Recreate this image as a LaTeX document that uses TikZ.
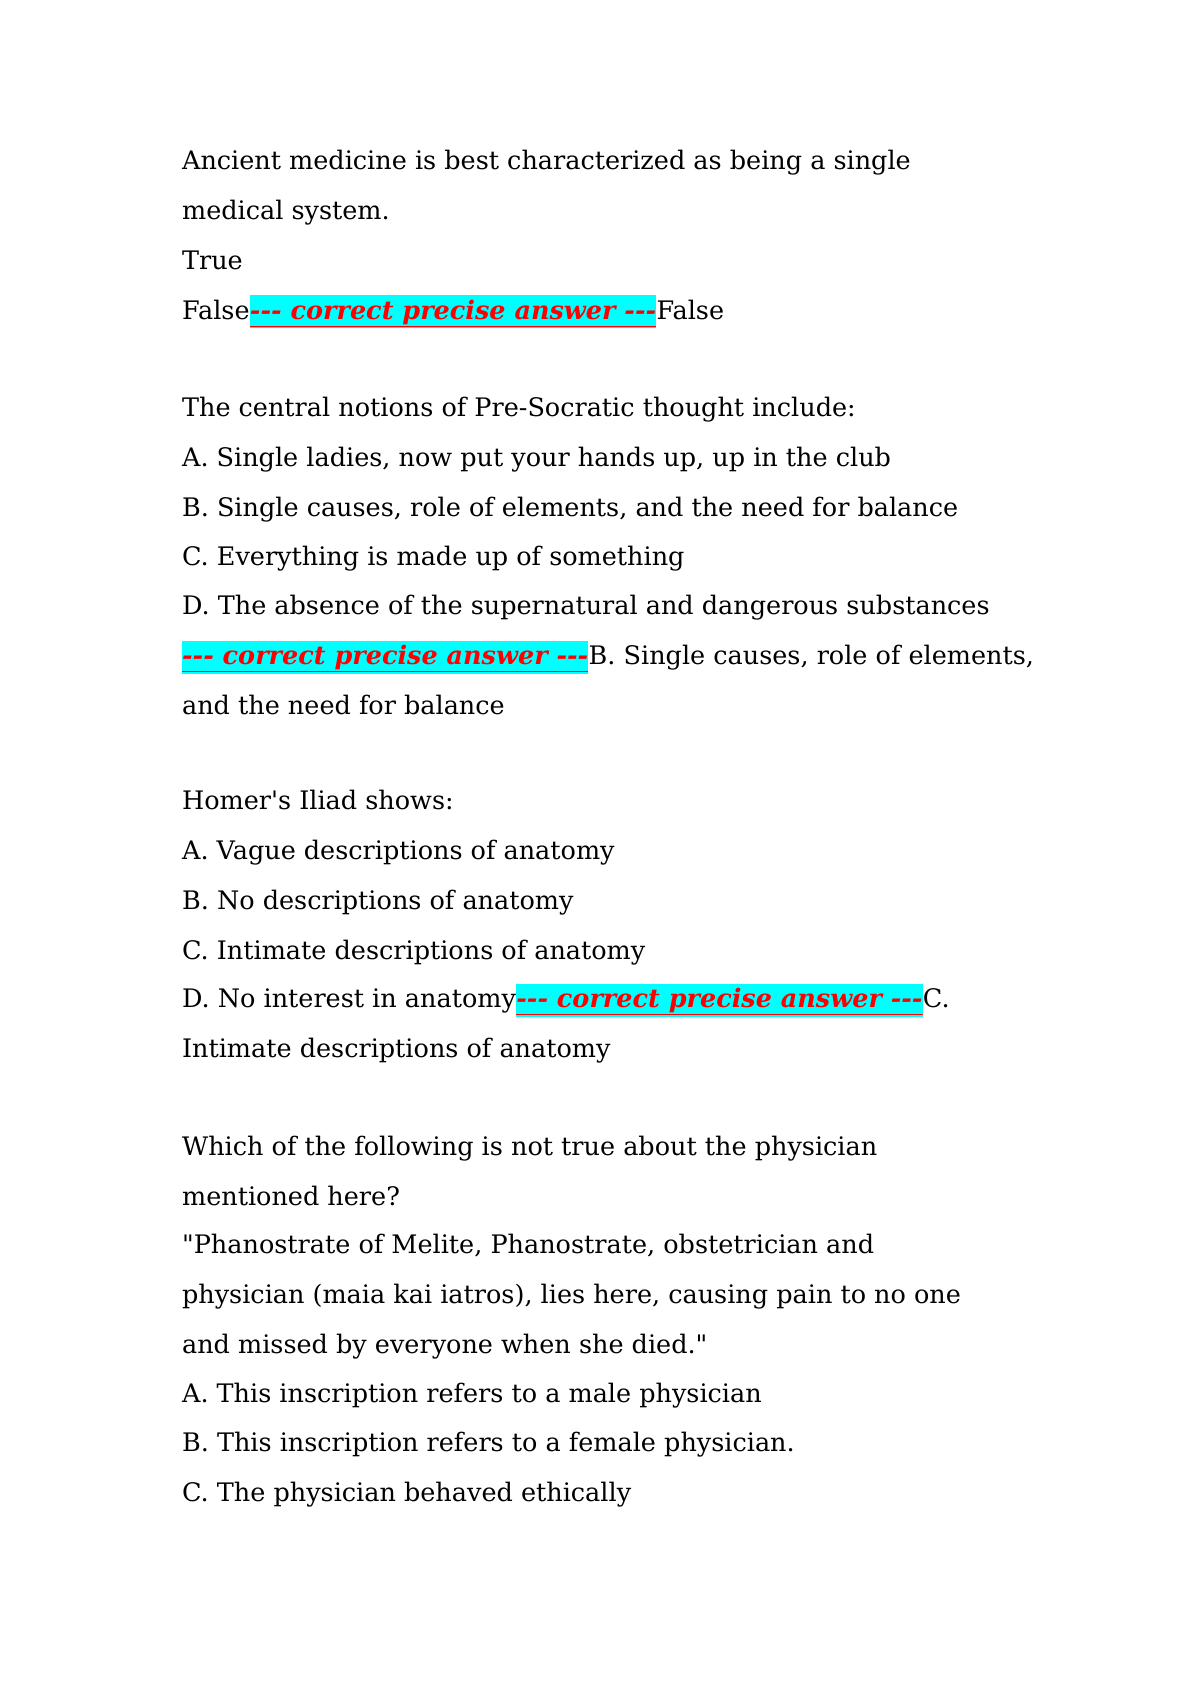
\documentclass[tikz,border=0pt]{standalone}
\usepackage{fontspec}
\setmainfont{DejaVu Serif}[Ligatures=TeXOff]
\definecolor{hl}{RGB}{0,255,255}
\begin{document}
\begin{tikzpicture}[x=1.0827pt,y=-1.0827pt,
 t/.style={anchor=base west,inner sep=0pt,font=\fontsize{25.5}{30}\selectfont},
 ans/.style={anchor=base west,inner xsep=0pt,inner ysep=0pt,fill=hl,text=red,font=\fontsize{25.5}{30}\selectfont\bfseries\itshape,text height=24pt,text depth=9pt}]
\useasboundingbox (0,0) rectangle (1100,1555.4);
\newcommand{\ca}{\underline{--- correct precise answer ---}}
\node[t] (l1) at (168,157) {Ancient medicine is best characterized as being a single};
\node[t] (l2) at (168,203) {medical system.};
\node[t] (l3) at (168,249) {True};
\node[t] (l4) at (168,295) {False\ };
\node[ans] (a1) at (l4.base east) {\ca};
\node[t] (l4b) at (a1.base east) {False};
\node[t] (m1) at (168,385) {The central notions of Pre-Socratic thought include:};
\node[t] (m2) at (168,431) {A. Single ladies, now put your hands up, up in the club};
\node[t] (m3) at (168,477) {B. Single causes, role of elements, and the need for balance};
\node[t] (m4) at (168,522) {C. Everything is made up of something};
\node[t] (m5) at (168,568) {D. The absence of the supernatural and dangerous substances};
\node[ans] (a2) at (168,614) {\ca};
\node[t] (m6) at (a2.base east) {B. Single causes, role of elements,};
\node[t] (m7) at (168,660) {and the need for balance};
\node[t] (h1) at (168,748) {Homer's Iliad shows:};
\node[t] (h2) at (168,794) {A. Vague descriptions of anatomy};
\node[t] (h3) at (168,840) {B. No descriptions of anatomy};
\node[t] (h4) at (168,886) {C. Intimate descriptions of anatomy};
\node[t] (h5) at (168,931) {D. No interest in anatomy\ };
\node[ans] (a3) at (h5.base east) {\ca};
\node[t] (h5b) at (a3.base east) {C.};
\node[t] (h6) at (168,977) {Intimate descriptions of anatomy};
\node[t] (p1) at (168,1067) {Which of the following is not true about the physician};
\node[t] (p2) at (168,1113) {mentioned here?};
\node[t] (p3) at (168,1158) {"Phanostrate of Melite, Phanostrate, obstetrician and};
\node[t] (p4) at (168,1204) {physician (maia kai iatros), lies here, causing pain to no one};
\node[t] (p5) at (168,1250) {and missed by everyone when she died."};
\node[t] (p6) at (168,1295) {A. This inscription refers to a male physician};
\node[t] (p7) at (168,1341) {B. This inscription refers to a female physician.};
\node[t] (p8) at (168,1387) {C. The physician behaved ethically};
\end{tikzpicture}
\end{document}
